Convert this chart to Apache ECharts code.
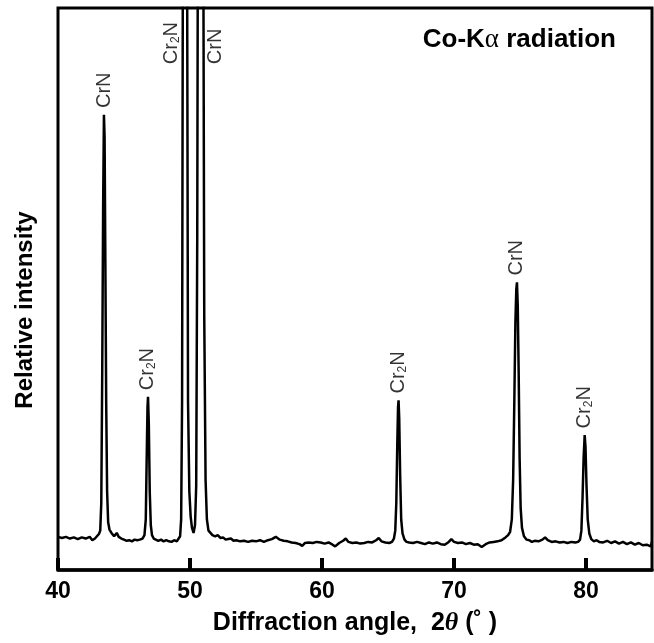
<!DOCTYPE html>
<html>
<head>
<meta charset="utf-8">
<script src="https://cdn.jsdelivr.net/npm/echarts@6/dist/echarts.min.js"></script>
<style>
html,body{margin:0;padding:0;background:#fff;}
#chart{width:654px;height:643px;}
</style>
</head>
<body>
<div id="chart"></div>
<script>
// Diffraction angle 2θ (degrees)
const angle = [
40.0,40.3,40.6,40.9,41.2,41.5,41.8,42.1,42.4,42.6,42.8,42.95,43.1,43.2,43.28,43.35,43.42,43.48,43.53,43.58,43.65,43.72,43.8,43.9,
44.05,44.25,44.45,44.6,44.8,45.0,45.2,45.4,45.6,45.8,46.0,46.2,46.4,46.55,46.65,46.72,46.78,46.82,46.88,46.95,47.03,47.12,47.25,
47.4,47.6,47.8,48.0,48.2,48.4,48.6,48.8,49.0,49.15,49.25,49.33,49.4,49.46,49.62,49.78,49.85,49.95,50.05,50.15,50.27,50.38,50.47,
50.55,50.6,50.8,51.0,51.08,51.18,51.28,51.4,51.55,51.7,51.9,52.1,52.3,52.5,52.7,52.9,53.1,53.3,53.5,53.8,54.1,54.4,54.7,55.0,
55.3,55.6,55.9,56.2,56.5,56.8,57.1,57.4,57.7,58.0,58.3,58.5,58.7,59.0,59.3,59.6,59.9,60.2,60.5,60.8,61.0,61.3,61.6,61.8,62.0,
62.3,62.6,62.9,63.2,63.5,63.8,64.1,64.3,64.5,64.8,65.1,65.3,65.45,65.55,65.63,65.7,65.76,65.8,65.85,65.92,66.0,66.1,66.25,66.4,
66.6,66.9,67.2,67.5,67.8,68.1,68.4,68.7,69.0,69.3,69.6,69.8,70.0,70.3,70.6,70.9,71.2,71.5,71.8,72.1,72.4,72.7,73.0,73.3,73.6,
73.9,74.1,74.25,74.38,74.48,74.57,74.65,74.72,74.77,74.83,74.9,74.97,75.05,75.15,75.3,75.5,75.7,75.9,76.1,76.4,76.7,76.9,77.1,
77.4,77.7,78.0,78.3,78.6,78.9,79.2,79.4,79.55,79.65,79.74,79.82,79.9,79.96,80.04,80.13,80.25,80.4,80.6,80.8,81.0,81.3,81.6,81.9,
82.2,82.5,82.8,83.1,83.4,83.7,84.0,84.3,84.6,84.9,85.0
];
// Relative intensity (arbitrary units, 0-100 = frame height)
const intensity = [
5.9,5.7,5.9,5.6,5.8,5.5,5.8,5.6,5.9,5.3,5.6,5.9,6.4,7.0,12,35,65,81,77,58,30,14,8.5,7.2,
6.6,6.0,6.6,5.9,5.6,5.4,5.2,5.3,5.1,5.4,5.3,5.4,5.6,6.2,9,20,29,30.8,26,14,8,6.2,5.6,
5.5,5.2,5.4,5.1,5.3,5.1,5.0,5.3,5.1,5.3,6.0,9,30,110,200,110,30,14,9.5,7.5,6.6,8,15,
60,120,260,120,45,16,9,7,6.6,6.2,6.0,6.2,5.7,5.8,5.4,5.5,5.6,5.2,5.3,5.1,5.2,5.0,5.2,5.1,
5.3,5.0,5.3,5.5,5.9,5.4,5.2,5.1,4.9,4.8,4.6,4.3,4.8,4.9,4.8,5.0,4.9,4.7,4.9,4.5,4.2,4.8,5.2,5.6,5.0,
4.8,4.9,4.7,4.8,5.0,4.9,5.3,5.7,5.1,4.9,4.8,5.0,5.6,7,12,22,29,30.2,27,17,9,6.5,5.4,5.0,
4.9,4.8,5.0,4.8,4.6,4.9,4.7,4.9,4.6,4.5,5.0,5.5,5.0,4.8,4.9,4.6,4.8,4.5,4.6,4.1,4.6,4.9,5.0,5.1,5.3,
5.8,6.2,6.8,9,16,30,44,50,51.2,47,35,20,11,7.5,6.0,5.4,5.3,5.0,5.2,5.1,5.4,5.8,5.3,
5.0,5.1,4.9,5.0,4.8,5.0,4.9,5.0,5.4,7,13,20,24,22,15,9,6.5,5.5,5.1,5.3,5.0,4.9,5.2,4.8,
5.1,4.7,5.0,4.6,4.9,4.5,4.8,4.4,4.5,4.2,5.0
];
// Peak labels
const labelText = ['CrN','Cr2N','Cr2N','CrN','Cr2N','CrN','Cr2N'];
const labelX    = [43.5, 46.8, 48.6, 51.9, 65.8, 74.77, 79.9];
const labelY    = [82.2, 32.0, 90.0, 90.0, 31.4, 52.4, 25.2];
// Axis ticks
const xTicks = [40, 50, 60, 70, 80];

const FONT = '"Liberation Sans", Arial, Helvetica, sans-serif';
const chart = echarts.init(document.getElementById('chart'), null, {renderer: 'canvas'});

const lineData = angle.map((a, i) => [a, intensity[i]]);
const labelData = labelText.map((t, i) => ({name: t, value: [labelX[i], labelY[i]]}));

const Y_MIN = 0, Y_MAX = 100, GRID_TOP = 8, GRID_BOTTOM = 73, H = 643, TICK_PX = 12;
// inward tick length expressed on the intensity scale
const tickLen = TICK_PX / (H - GRID_TOP - GRID_BOTTOM) * (Y_MAX - Y_MIN);
const tickMarks = xTicks.slice(1).map(v => [{coord: [v, Y_MIN]}, {coord: [v, Y_MIN + tickLen]}]);

chart.setOption({
  animation: false,
  backgroundColor: '#fff',
  title: {
    text: 'Co-K{a|\u03b1} radiation',
    right: 33, top: 21,
    textStyle: {fontFamily: FONT, fontSize: 26, fontWeight: 'bold', color: '#000',
      rich: {a: {fontFamily: '"Liberation Serif", serif', fontSize: 27, fontWeight: 'normal', color: '#000'}}}
  },
  grid: {left: 58, right: 2, top: GRID_TOP, bottom: GRID_BOTTOM, show: true,
    borderColor: '#000', borderWidth: 3, backgroundColor: 'transparent'},
  xAxis: {
    type: 'value', min: 40, max: 85, interval: 10, position: 'bottom',
    name: 'Diffraction angle,  2{i|\u03b8} (\u02da )',
    nameLocation: 'middle', nameGap: 40,
    nameTextStyle: {fontFamily: FONT, fontSize: 25, fontWeight: 'bold', color: '#000',
      rich: {i: {fontFamily: '"Liberation Serif", serif', fontStyle: 'italic', fontWeight: 'bold', fontSize: 26, color: '#000'}}},
    axisLine: {show: true, onZero: false, lineStyle: {color: '#000', width: 3.5}},
    axisTick: {show: true, inside: true, length: TICK_PX, lineStyle: {color: '#000', width: 4}},
    axisLabel: {show: true, fontFamily: FONT, fontSize: 23, fontWeight: 'bold', color: '#000', margin: 10,
      showMaxLabel: false,
      formatter: v => (xTicks.indexOf(v) >= 0 ? String(v) : '')},
    splitLine: {show: false}
  },
  yAxis: {
    type: 'value', min: Y_MIN, max: Y_MAX,
    axisLine: {show: false}, axisTick: {show: false}, axisLabel: {show: false}, splitLine: {show: false}
  },
  graphic: [{
    type: 'text', x: 25, y: 310, rotation: Math.PI / 2,
    style: {text: 'Relative intensity', fontFamily: FONT, fontSize: 24, fontWeight: 'bold',
      fill: '#000', align: 'center', verticalAlign: 'middle'}
  }],
  series: [{
    type: 'line', data: lineData, showSymbol: false, symbol: 'none', clip: true,
    lineStyle: {color: '#000', width: 2.5}, z: 3,
    markLine: {
      silent: true, symbol: ['none', 'none'], label: {show: false},
      lineStyle: {color: '#000', width: 4, type: 'solid'},
      emphasis: {disabled: true},
      data: tickMarks
    }
  }, {
    type: 'scatter', data: labelData, symbolSize: 0, z: 4,
    label: {
      show: true, position: 'inside', rotate: 90, align: 'left', verticalAlign: 'middle',
      fontFamily: FONT, fontSize: 20, color: '#000',
      formatter: p => p.name === 'Cr2N' ? 'Cr{s|2}N' : 'CrN',
      rich: {s: {fontFamily: FONT, fontSize: 12, color: '#000', verticalAlign: 'bottom', lineHeight: 12}}
    }
  }]
});
</script>
</body>
</html>
